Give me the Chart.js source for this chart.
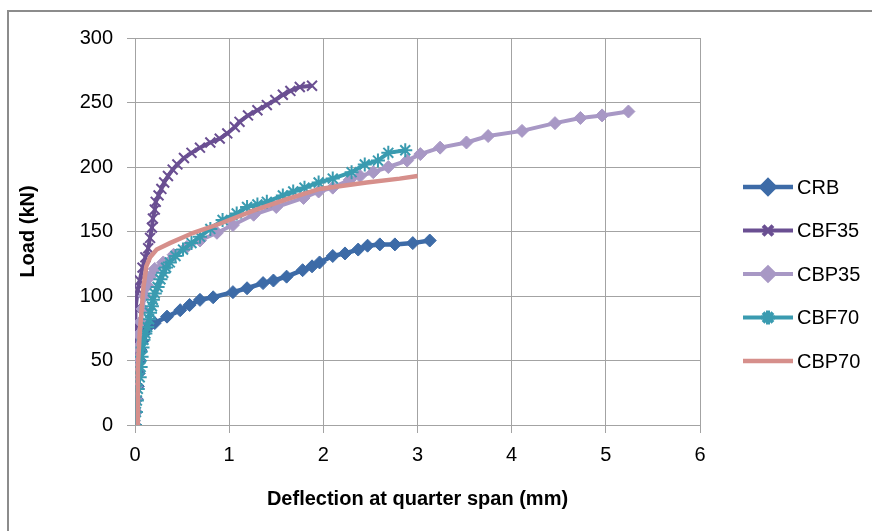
<!DOCTYPE html>
<html>
<head>
<meta charset="utf-8">
<script src="https://cdn.jsdelivr.net/npm/chart.js@4/dist/chart.umd.min.js"></script>
<style>
  html, body { margin: 0; padding: 0; background: #fff; }
  #wrap { width: 872px; height: 531px; position: relative; }
</style>
</head>
<body>
<div id="wrap"><canvas id="grafico"></canvas></div>
<script>
// datos (deflexion en mm, carga en kN)
const crbX = [0, 0.01, 0.02, 0.03, 0.04, 0.05, 0.06, 0.08, 0.1, 0.14, 0.21, 0.34, 0.48, 0.58, 0.69, 0.83, 1.04, 1.19, 1.36, 1.47, 1.61, 1.78, 1.88, 1.96, 2.1, 2.23, 2.37, 2.47, 2.6, 2.76, 2.95, 3.13];
const crbY = [0, 10, 20, 30, 40, 50, 58, 65, 71, 76, 79, 84, 89, 93, 97, 99, 103, 106, 110, 112, 115, 120, 123, 126, 131, 133, 136, 139, 140, 140, 141, 143];

const cbf35X = [0, 0, 0, 0, 0.01, 0.01, 0.01, 0.03, 0.05, 0.08, 0.11, 0.14, 0.16, 0.18, 0.19, 0.21, 0.22, 0.25, 0.28, 0.31, 0.35, 0.4, 0.45, 0.52, 0.6, 0.69, 0.8, 0.9, 0.98, 1.06, 1.11, 1.2, 1.3, 1.4, 1.49, 1.57, 1.65, 1.75, 1.88];
const cbf35Y = [0, 15, 30, 45, 60, 75, 90, 105, 112, 122, 130, 137, 145, 153, 160, 167, 173, 178, 183, 188, 193, 198, 202, 207, 211, 215, 219, 222, 226, 231, 235, 240, 244, 248, 252, 256, 259, 262, 263];

const cbp35X = [0, 0, 0.01, 0.01, 0.01, 0.02, 0.03, 0.04, 0.06, 0.08, 0.1, 0.13, 0.16, 0.21, 0.3, 0.41, 0.55, 0.69, 0.87, 1.04, 1.26, 1.5, 1.79, 1.95, 2.1, 2.28, 2.39, 2.53, 2.69, 2.89, 3.03, 3.24, 3.52, 3.75, 4.11, 4.46, 4.73, 4.96, 5.24];
const cbp35Y = [0, 10, 20, 30, 40, 50, 60, 70, 80, 90, 100, 108, 115, 121, 126, 132, 138, 143, 149, 155, 163, 169, 176, 181, 184, 190, 193, 196, 200, 205, 210, 215, 219, 224, 228, 234, 238, 240, 243];

const cbf70X = [0, 0.01, 0.02, 0.03, 0.05, 0.06, 0.07, 0.08, 0.09, 0.11, 0.13, 0.15, 0.16, 0.18, 0.19, 0.21, 0.24, 0.27, 0.3, 0.33, 0.37, 0.43, 0.51, 0.6, 0.69, 0.8, 0.93, 1.08, 1.19, 1.3, 1.4, 1.57, 1.68, 1.8, 1.95, 2.1, 2.3, 2.44, 2.58, 2.69, 2.87];
const cbf70Y = [0, 10, 19, 28, 37, 45, 53, 60, 66, 71, 76, 82, 87, 92, 97, 102, 107, 113, 118, 122, 126, 131, 136, 141, 146, 152, 159, 164, 169, 171, 173, 178, 181, 184, 188, 191, 196, 202, 205, 211, 213];

const cbp70X = [0.03, 0.03, 0.03, 0.05, 0.07, 0.09, 0.12, 0.16, 0.23, 0.37, 0.62, 0.9, 1.25, 1.61, 1.96, 2.46, 2.81, 3.0];
const cbp70Y = [0, 20, 45, 71, 89, 107, 123, 130, 136, 141, 149, 156, 166, 175, 183, 188, 191, 193];

const seriesNames = ["CRB", "CBF35", "CBP35", "CBF70", "CBP70"];
const yTicks = [0, 50, 100, 150, 200, 250, 300];
const xTicks = [0, 1, 2, 3, 4, 5, 6];

function puntos(xs, ys) {
    return xs.map((x, i) => ({ x: x, y: ys[i] }));
}

const grisEje = "#a3a3a3";
const fuente = "'Liberation Sans', Arial, sans-serif";

// marco gris del area del grafico
const marco = {
    id: "marco",
    beforeDraw(chart) {
        const ctx = chart.ctx;
        ctx.save();
        ctx.strokeStyle = "#8c8c8c";
        ctx.lineWidth = 2;
        ctx.beginPath();
        ctx.moveTo(8, 531);
        ctx.lineTo(8, 11);
        ctx.lineTo(872, 11);
        ctx.stroke();
        ctx.restore();
    }
};

// leyenda dibujada a mano para ubicarla como en el original
const leyenda = {
    id: "leyenda",
    afterDraw(chart) {
        const ctx = chart.ctx;
        ctx.save();
        chart.data.datasets.forEach((ds, i) => {
            const y = 187 + i * 43.5;
            ctx.strokeStyle = ds.borderColor;
            ctx.lineWidth = ds.borderWidth;
            ctx.beginPath();
            ctx.moveTo(743, y);
            ctx.lineTo(793, y);
            ctx.stroke();
            if (ds.pointRadius > 0) {
                ctx.strokeStyle = ds.pointBorderColor;
                ctx.fillStyle = ds.pointBackgroundColor;
                Chart.helpers.drawPoint(ctx, {
                    pointStyle: ds.pointStyle,
                    radius: ds.pointRadius,
                    rotation: 0,
                    borderWidth: ds.pointBorderWidth
                }, 768, y);
            }
            ctx.fillStyle = "#000";
            ctx.font = "20px " + fuente;
            ctx.textBaseline = "middle";
            ctx.textAlign = "left";
            ctx.fillText(ds.label, 797, y + 1);
        });
        ctx.restore();
    }
};

const colores = ["#3d6ba7", "#6a4f92", "#a898c5", "#3a9bb0", "#d68f8b"];
const estilos = ["rectRot", "crossRot", "rectRot", "star", "circle"];
const radios = [6.5, 7, 6.5, 7, 0];
const anchos = [4.5, 4, 4, 4, 4.5];
const datos = [puntos(crbX, crbY), puntos(cbf35X, cbf35Y), puntos(cbp35X, cbp35Y), puntos(cbf70X, cbf70Y), puntos(cbp70X, cbp70Y)];

const datasets = seriesNames.map((nombre, i) => ({
    label: nombre,
    data: datos[i],
    showLine: true,
    borderColor: colores[i],
    backgroundColor: colores[i],
    borderWidth: anchos[i],
    pointStyle: estilos[i],
    pointRadius: radios[i],
    pointBackgroundColor: colores[i],
    pointBorderColor: colores[i],
    pointBorderWidth: estilos[i] === "rectRot" ? 1 : 2,
    tension: 0,
    order: 5 - i
}));

const ctx = document.getElementById("grafico").getContext("2d");
const grafico = new Chart(ctx, {
    type: "scatter",
    data: { datasets: datasets },
    options: {
        responsive: true,
        maintainAspectRatio: false,
        animation: false,
        devicePixelRatio: 1,
        layout: { padding: { left: 0, right: 172, top: 38, bottom: 0 } },
        plugins: {
            legend: { display: false },
            tooltip: { enabled: false }
        },
        scales: {
            x: {
                type: "linear",
                min: 0,
                max: 6,
                afterBuildTicks: (scale) => { scale.ticks = xTicks.map(v => ({ value: v })); },
                afterFit: (scale) => { scale.height = 106; },
                grid: { color: grisEje, lineWidth: 1, drawTicks: true, tickLength: 8, tickColor: grisEje },
                border: { color: grisEje, width: 1 },
                ticks: { color: "#000", font: { family: fuente, size: 20 }, padding: 10, maxRotation: 0 },
                title: { display: true, text: "Deflection at quarter span (mm)", color: "#000",
                         font: { family: fuente, size: 20, weight: "bold" }, padding: { top: 0, bottom: 20 } }
            },
            y: {
                type: "linear",
                min: 0,
                max: 300,
                afterBuildTicks: (scale) => { scale.ticks = yTicks.map(v => ({ value: v })); },
                afterFit: (scale) => { scale.width = 135; },
                grid: { color: grisEje, lineWidth: 1, drawTicks: true, tickLength: 8, tickColor: grisEje },
                border: { color: grisEje, width: 1 },
                ticks: { color: "#000", font: { family: fuente, size: 20 }, padding: 14 },
                title: { display: true, text: "Load (kN)", color: "#000",
                         font: { family: fuente, size: 20, weight: "bold" }, padding: { top: 16, bottom: 0 } }
            }
        }
    },
    plugins: [marco, leyenda]
});
console.log("grafico listo", grafico.chartArea);
</script>
</body>
</html>
